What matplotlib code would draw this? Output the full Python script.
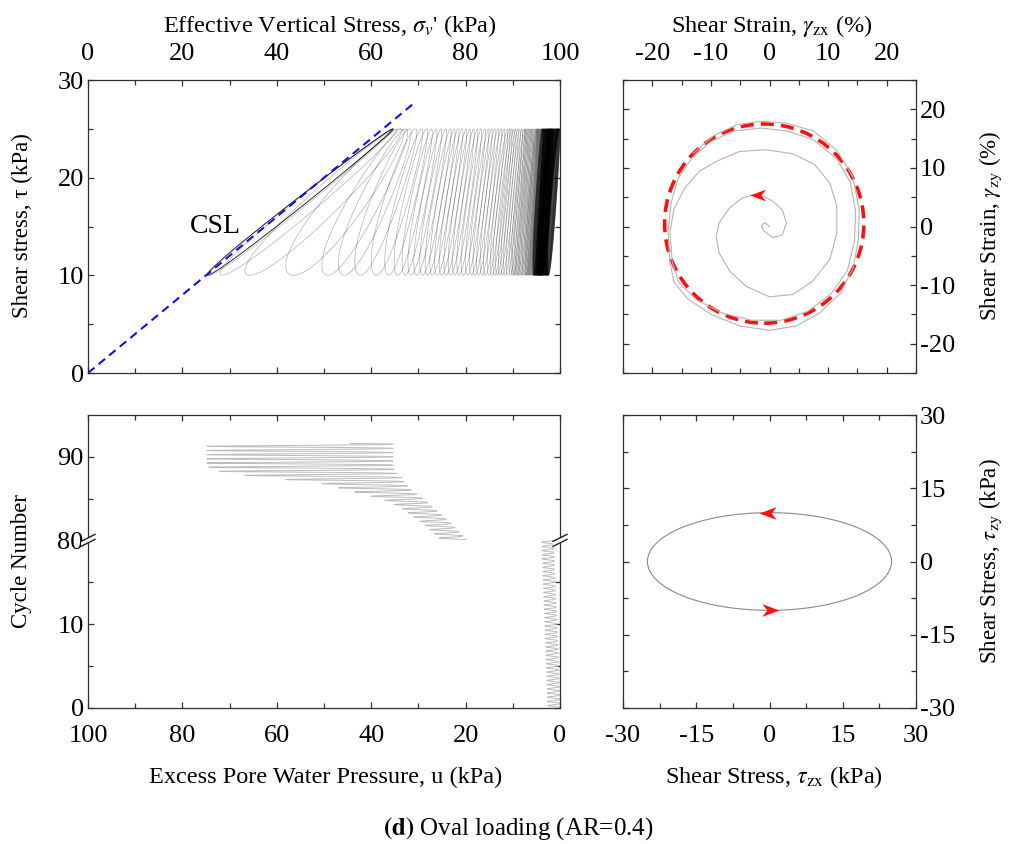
import numpy as np
import matplotlib
matplotlib.use('Agg')
import matplotlib.pyplot as plt
from matplotlib.collections import LineCollection
from matplotlib.patches import Ellipse, Polygon
from matplotlib.lines import Line2D
from matplotlib.path import Path
from matplotlib.ticker import MultipleLocator

plt.rcParams['font.family'] = ['Liberation Serif', 'DejaVu Serif']
plt.rcParams['mathtext.fontset'] = 'stix'
plt.rcParams['axes.unicode_minus'] = False
plt.rcParams['axes.linewidth'] = 0.9
plt.rcParams['axes.edgecolor'] = '#303030'

# ---- loading (kPa) ----
tzx_amp = 25.0
tzy_amp = 10.0
sigma0 = 100.0
csl_slope = 0.4
csl_end = 69.0

# ---- pore pressure record ----
cyc_read = [0, 10, 20, 30, 40, 50, 60, 65, 70, 74, 77, 80, 82, 84, 85, 86, 87, 87.5, 88, 88.5, 89, 91.6]
u_low = [0, 0.6, 1.4, 1.9, 2.4, 3.0, 3.8, 5.0, 7.5, 11.0, 15.0, 19.7, 23.0, 27.0, 29.0, 31.5, 33.0, 33.5, 34.5, 35.2, 35.4, 35.4]
u_high = [2.6, 3.2, 3.9, 4.2, 4.6, 5.1, 5.8, 7.5, 10.5, 15.0, 19.5, 25.0, 29.0, 34.0, 38.0, 45.0, 52.0, 63.0, 70.0, 74.0, 74.8, 74.8]
u_lag = [0.22, 0.22, 0.22, 0.22, 0.22, 0.22, 0.22, 0.22, 0.22, 0.22, 0.22, 0.22, 0.22, 0.22, 0.22, 0.21, 0.18, 0.14, 0.09, 0.05, 0.04, 0.04]
n_end = 91.6

# ---- strain spiral (gamma_zx, gamma_zy, %) ----
g_zx = [0, -0.8, -1.4, -0.9, 0.6, 2.2, 2.9, 2.2, 0.6, -1.1, -2.6, -4.6, -6.8, -8.6, -9.1, -8.6, -6.8, -4.0,
        0, 4.0, 7.4, 10.3, 11.5, 11.5, 10.3, 7.7, 4.0, -0.6, -5.1, -9.1, -12.0, -14.5, -16.3, -17.0, -16.6,
        -15.5, -12.5, -8.0, -3.0, 2.0, 6.5, 10.5, 13.3, 14.5, 14.7, 13.8, 11.5, 7.5, 3.0, -1.5, -6.0, -10.0,
        -13.3, -15.6, -16.8, -17.3, -17.0, -16.3, -14.0, -10.0, -5.0, 0, 4.5, 8.5, 12.0, 14.3, 15.2, 15.3,
        14.2, 11.5, 7.5, 3.0, -1.5, -5.5, -9.5, -13.0]
g_zy = [0, 0.7, 0.1, -0.8, -1.9, -1.4, 0.6, 2.8, 4.3, 5.2, 5.45, 4.9, 3.2, 0.6, -1.7, -4.5, -7.6, -10.2,
        -12.0, -11.6, -9.3, -5.6, -1.1, 3.5, 7.4, 10.6, 12.4, 13.1, 12.8, 11.1, 9.4, 6.5, 3.0, -1.0, -6.0,
        -9.5, -12.5, -14.8, -16.0, -16.0, -14.5, -11.5, -7.5, -2.5, 2.5, 7.5, 11.5, 14.8, 16.3, 16.8, 16.3,
        14.5, 11.6, 8.2, 4.0, -1.0, -6.0, -9.5, -12.3, -15.0, -17.0, -17.7, -17.0, -14.8, -11.5, -7.0, -2.0,
        3.0, 8.5, 13.0, 16.3, 17.6, 17.95, 17.4, 15.5, 12.5]
circ_center = (-0.9, 0.5)
circ_radius = 17.0
spiral_arrow = (-2.0, 5.45)
ellipse_arrows_x = [-0.4, 0.1]
ellipse_arrows_y = [tzy_amp, -tzy_amp]

# ---- stress path from the oval loading ----
seg_sig, seg_un = [], []
n_half = int(np.ceil(n_end * 2))
for k in range(n_half):
    th = np.linspace(k * np.pi, min((k + 1) * np.pi, n_end * 2 * np.pi), 60)
    N = th / (2 * np.pi)
    ul = np.interp(N, cyc_read, u_low)
    uh = np.interp(N, cyc_read, u_high)
    lg = np.interp(N, cyc_read, u_lag)
    tau = np.hypot(tzx_amp * np.cos(th), tzy_amp * np.sin(th))
    tau_l = np.hypot(tzx_amp * np.cos(th - lg), tzy_amp * np.sin(th - lg))
    g = (tzx_amp - tau_l) / (tzx_amp - tzy_amp)
    u = ul + (uh - ul) * g
    seg_sig.append(np.column_stack([sigma0 - u, tau]))
    seg_un.append(np.column_stack([u, N]))

fig = plt.figure(figsize=(10.11, 8.44), dpi=100)
FW, FH = 1011.0, 844.0

def box(x0, y0, x1, y1):
    return [x0 / FW, 1 - y1 / FH, (x1 - x0) / FW, (y1 - y0) / FH]

ax1 = fig.add_axes(box(88, 80, 560, 373))
ax2 = fig.add_axes(box(623, 80, 916, 373))
ax_up = fig.add_axes(box(88, 415, 560, 540.4))
ax_low = fig.add_axes(box(88, 540.4, 560, 708))
ax4 = fig.add_axes(box(623, 415, 916, 708))

def style(ax):
    ax.tick_params(which='both', direction='in', top=True, bottom=True, left=True, right=True,
                   labelsize=19, width=0.9, color='#303030')
    ax.tick_params(which='major', length=4)
    ax.tick_params(which='minor', length=3.5)

# arrow head marker
head_left = Path([(-1, 0), (0.9, 0.7), (0.35, 0), (0.9, -0.7), (-1, 0)],
                 [Path.MOVETO, Path.LINETO, Path.LINETO, Path.LINETO, Path.CLOSEPOLY])
head_right = Path([(1, 0), (-0.9, 0.7), (-0.35, 0), (-0.9, -0.7), (1, 0)],
                  [Path.MOVETO, Path.LINETO, Path.LINETO, Path.LINETO, Path.CLOSEPOLY])

# ---- top left: stress path ----
ax1.add_collection(LineCollection(seg_sig, colors='k', linewidths=0.5, alpha=0.3))
ax1.plot([0, csl_end], [0, csl_slope * csl_end], color='#1010ee', lw=1.5, dashes=(4, 2.6))
ax1.text(27, 15, 'CSL', fontsize=20, ha='center', va='center')
ax1.set_xlim(0, 100)
ax1.set_ylim(0, 30)
style(ax1)
ax1.tick_params(labeltop=True, labelbottom=False)
ax1.tick_params(axis='x', pad=11)
ax1.tick_params(axis='y', pad=3)
ax1.xaxis.set_major_locator(MultipleLocator(20))
ax1.xaxis.set_minor_locator(MultipleLocator(10))
ax1.yaxis.set_major_locator(MultipleLocator(10))
ax1.yaxis.set_minor_locator(MultipleLocator(5))

# ---- top right: strain spiral ----
ax2.plot(g_zx, g_zy, color='#b4b4b4', lw=0.8)
ax2.add_patch(Ellipse(circ_center, 2 * circ_radius, 2 * circ_radius, fill=False,
                      edgecolor='#ff1010', lw=2.6, linestyle=(0, (3.6, 2.0))))
ax2.plot([spiral_arrow[0]], [spiral_arrow[1]], marker=head_left, ms=12, color='#ff1010', mec='none', ls='none')
ax2.set_xlim(-25, 25)
ax2.set_ylim(-25, 25)
style(ax2)
ax2.tick_params(labeltop=True, labelbottom=False, labelleft=False, labelright=True)
ax2.tick_params(axis='x', pad=11)
ax2.tick_params(axis='y', pad=3)
ax2.xaxis.set_major_locator(MultipleLocator(10))
ax2.xaxis.set_minor_locator(MultipleLocator(5))
ax2.yaxis.set_major_locator(MultipleLocator(10))
ax2.yaxis.set_minor_locator(MultipleLocator(5))

# ---- bottom left: cycle number vs u (broken axis) ----
for ax, lo, hi in [(ax_low, 0, 20), (ax_up, 80, 95)]:
    ax.add_collection(LineCollection(seg_un, colors='#bcbcbc', linewidths=0.7))
    ax.set_xlim(100, 0)
    ax.set_ylim(lo, hi)
    style(ax)
    ax.tick_params(axis='y', pad=3)
    ax.xaxis.set_major_locator(MultipleLocator(20))
    ax.xaxis.set_minor_locator(MultipleLocator(10))
ax_low.spines['top'].set_visible(False)
ax_up.spines['bottom'].set_visible(False)
ax_low.tick_params(top=False, which='both')
ax_low.tick_params(axis='x', pad=12)
ax_up.tick_params(bottom=False, labelbottom=False, which='both')
ax_low.set_yticks([0, 10])
ax_low.set_yticks([5, 15], minor=True)
ax_up.set_yticks([80, 90])
ax_up.set_yticks([85], minor=True)

# break marks on both spines
pos = ax_low.get_position()
for xb in [pos.x0, pos.x1]:
    yb = pos.y1
    ox, oy = 1 / FW, 1 / FH
    p1 = [(xb - 7 * ox, yb - 6 * oy), (xb + 7 * ox, yb + 1 * oy)]
    p2 = [(xb - 7 * ox, yb - 1 * oy), (xb + 7 * ox, yb + 6 * oy)]
    fig.add_artist(Polygon(p1 + p2[::-1], closed=True, transform=fig.transFigure,
                           facecolor='white', edgecolor='none', zorder=5))
    for p in (p1, p2):
        fig.add_artist(Line2D([p[0][0], p[1][0]], [p[0][1], p[1][1]], transform=fig.transFigure,
                              color='#202020', lw=1.0, zorder=6))

# ---- bottom right: stress path (oval) ----
ax4.add_patch(Ellipse((0, 0), 2 * tzx_amp, 2 * tzy_amp, fill=False, edgecolor='#8a8a8a', lw=0.8))
ax4.plot(ellipse_arrows_x[:1], ellipse_arrows_y[:1], marker=head_left, ms=13, color='#ff1010', mec='none', ls='none')
ax4.plot(ellipse_arrows_x[1:], ellipse_arrows_y[1:], marker=head_right, ms=13, color='#ff1010', mec='none', ls='none')
ax4.set_xlim(-30, 30)
ax4.set_ylim(-30, 30)
style(ax4)
ax4.tick_params(labelleft=False, labelright=True)
ax4.tick_params(axis='x', pad=12)
ax4.tick_params(axis='y', pad=3)
ax4.xaxis.set_major_locator(MultipleLocator(15))
ax4.xaxis.set_minor_locator(MultipleLocator(7.5))
ax4.yaxis.set_major_locator(MultipleLocator(15))
ax4.yaxis.set_minor_locator(MultipleLocator(7.5))

# ---- labels ----
def ftext(x, y, s, size=17.5, **kw):
    fig.text(x / FW, 1 - y / FH, s, ha='center', va='center', fontsize=size, **kw)

ftext(330, 26, r"Effective Vertical Stress, $\sigma_v$' (kPa)")
ftext(772, 26, r"Shear Strain, $\gamma_{\rm zx}$ (%)")
ftext(326, 777, "Excess Pore Water Pressure, u (kPa)")
ftext(774, 777, r"Shear Stress, $\tau_{\rm zx}$ (kPa)")
ftext(22, 226, "Shear stress, \u03c4 (kPa)", size=16.5, rotation=90)
ftext(22, 561, "Cycle Number", size=16.5, rotation=90)
ftext(991, 226, r"Shear Strain, $\gamma_{\rm zy}$ (%)", size=16.5, rotation=90)
ftext(991, 561, r"Shear Stress, $\tau_{\rm zy}$ (kPa)", size=16.5, rotation=90)
ftext(518, 829, r"$\mathbf{(d)}$ Oval loading (AR=0.4)", size=18)

fig.savefig('out.png', dpi=100)
